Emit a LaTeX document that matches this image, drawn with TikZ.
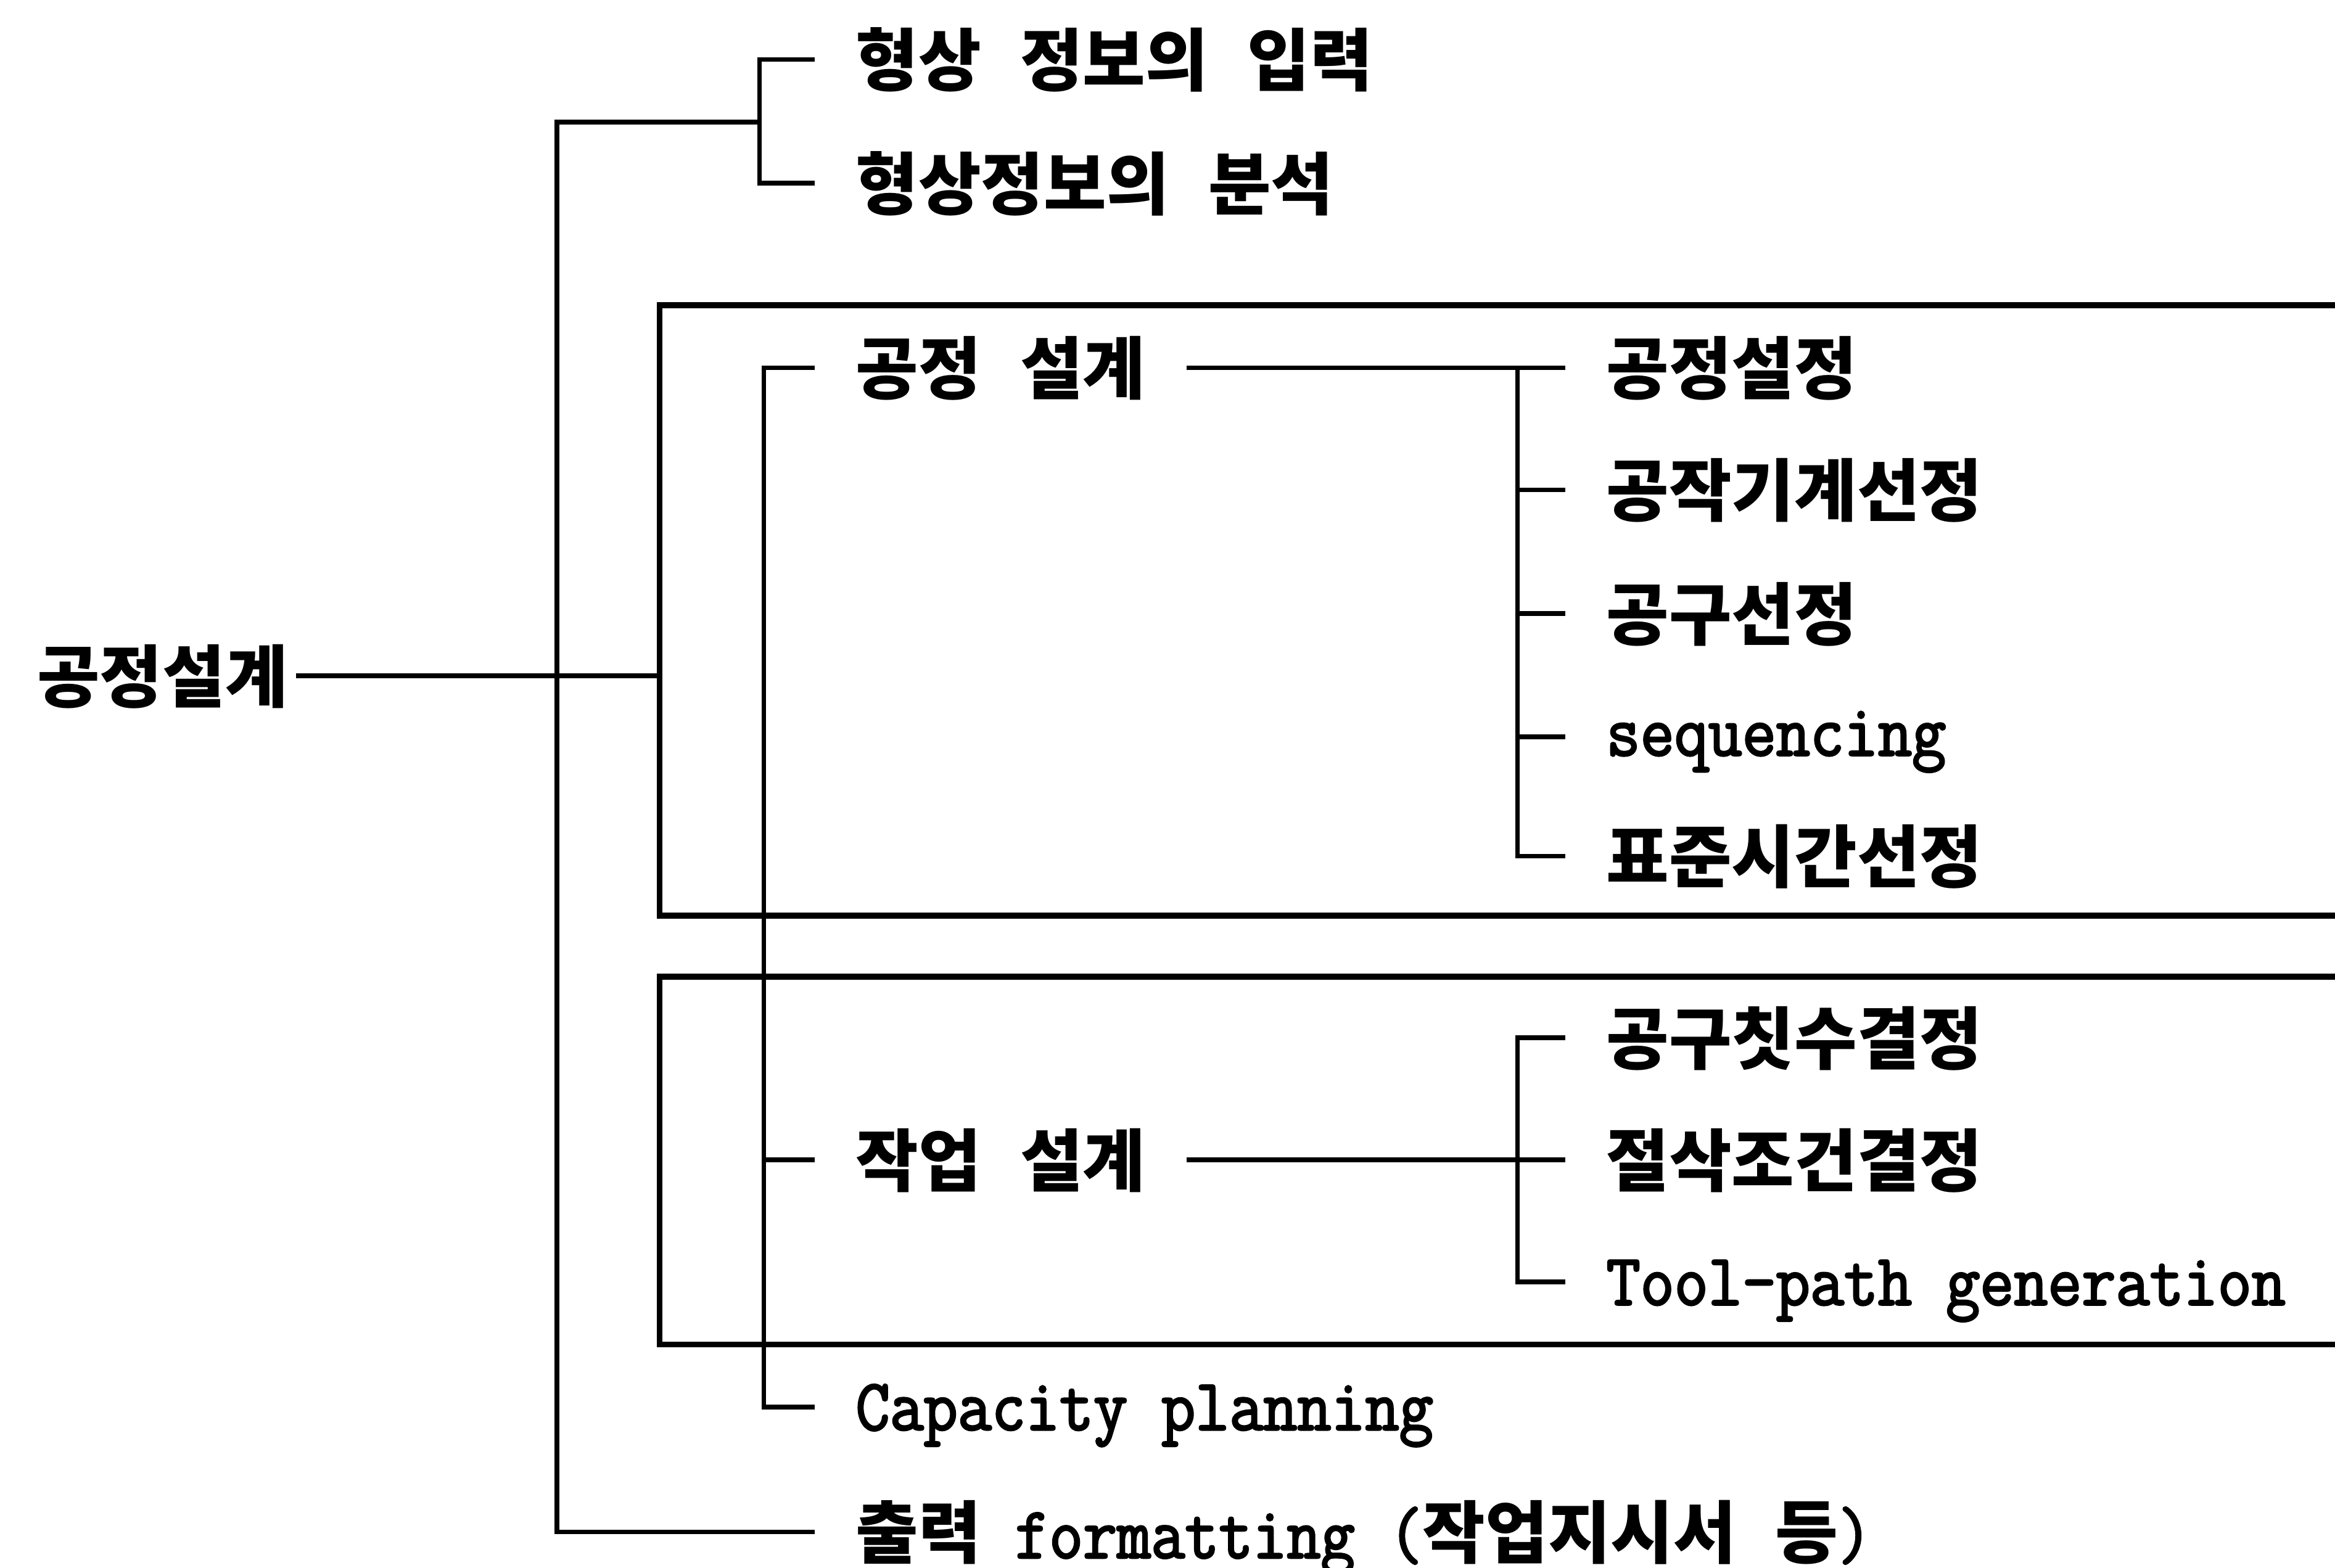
\documentclass[tikz,border=0pt]{standalone}
\usepackage{fontspec}
\setmainfont{Latin Modern Mono}[FakeStretch=0.9,BoldFont=Latin Modern Mono,BoldFeatures={FakeBold=2.5}]
\newfontfamily\krfont{Noto Sans CJK KR}[Scale=0.93,WordSpace=2.5]
\tikzset{
 item/.style={anchor=west,inner xsep=2.7mm,inner ysep=0pt,text height=4mm,text depth=.5mm},
 lat/.style={text height=3.6mm},
 tree/.style={line width=.9pt},
 frame/.style={line width=1.1pt}
}
\begin{document}
\begin{tikzpicture}[font=\fontsize{14}{16}\selectfont\bfseries,x=.1mm,y=-.1mm]
\useasboundingbox (0,0) rectangle (1568,1053);
\draw[frame] (1600,205) -| (443,615) -- (1600,615);
\draw[frame] (1600,656) -| (443,903) -- (1600,903);
\node[item,anchor=east,inner xsep=.5mm] (root) at (199,454) {\krfont 공정설계};
\node[item] (in1) at (547,40) {\krfont 형상 정보의 입력};
\node[item] (an1) at (547,123) {\krfont 형상정보의 분석};
\node[item] (pd) at (547,247) {\krfont 공정 설계};
\node[item] (wd) at (547,779) {\krfont 작업 설계};
\node[item,lat] (cap) at (547,945) {Capacity planning};
\node[item] (out) at (547,1029) {{\krfont 출력} formatting ({\krfont 작업지시서 등})};
\foreach \n/\y/\t in {ps/247/{\krfont 공정설정},mc/329/{\krfont 공작기계선정},tl/412/{\krfont 공구선정},st/575/{\krfont 표준시간선정},td/697/{\krfont 공구칫수결정},cc/779/{\krfont 절삭조건결정}}{
 \node[item] (\n) at (1051,\y) {\t};
}
\node[item,text height=3mm] (sq) at (1051,495) {sequencing};
\node[item,lat] (tp) at (1051,861) {Tool-path generation};
\coordinate (jA) at (374,82);
\coordinate (jB) at (510,82);
\coordinate (bx) at (443,454);
\coordinate (busB) at (513,0);
\coordinate (busC) at (1019,0);
\draw[tree] (in1.west) -| (jB) |- (an1.west);
\draw[tree] (jB) -- (jA) |- (out.west);
\draw[tree] (root.east) -- (bx);
\draw[tree] (pd.west) -| (busB |- cap.west) -- (cap.west);
\draw[tree] (busB |- wd.west) -- (wd.west);
\draw[tree] (pd.east) -- (ps.west);
\draw[tree] (busC |- ps.west) |- (st.west);
\foreach \n in {mc,tl,sq}{\draw[tree] (busC |- \n.west) -- (\n.west);}
\draw[tree] (wd.east) -- (cc.west);
\draw[tree] (td.west) -| (busC |- tp.west) -- (tp.west);
\end{tikzpicture}
\end{document}
